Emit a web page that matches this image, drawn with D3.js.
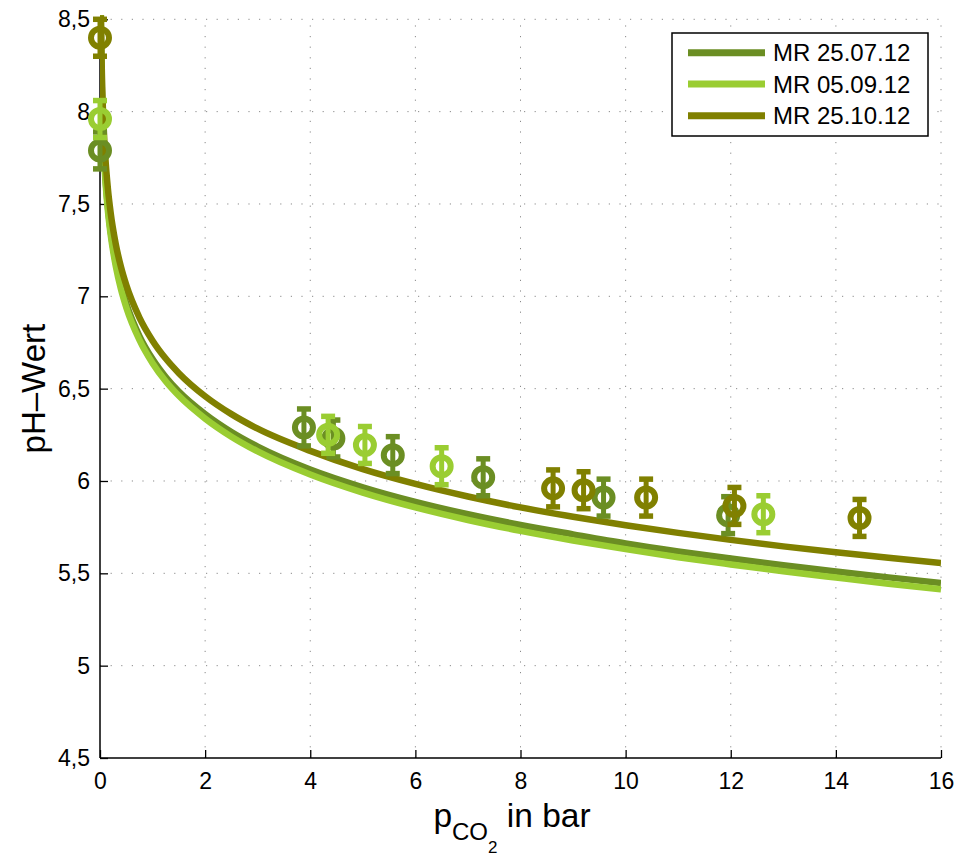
<!DOCTYPE html>
<html>
<head>
<meta charset="utf-8">
<script src="https://cdn.jsdelivr.net/npm/d3@7"></script>
<style>
  html, body { margin: 0; padding: 0; background: #fff; }
  svg { display: block; font-family: "Liberation Sans", Arial, Helvetica, sans-serif; }
</style>
</head>
<body>
<svg id="chart" width="958" height="864"></svg>
<script>
// ---- data ----------------------------------------------------------------
const seriesNames = ["MR 25.07.12", "MR 05.09.12", "MR 25.10.12"];
const seriesColors = ["#6B8E23", "#9ACD32", "#808000"];

// measured points: CO2 partial pressure (bar), pH, error
const pco2_0725 = [0, 3.88, 4.44, 5.57, 7.29, 9.58, 11.95];
const ph_0725   = [7.79, 6.29, 6.23, 6.14, 6.02, 5.91, 5.815];
const err_0725  = [0.1, 0.1, 0.1, 0.1, 0.1, 0.1, 0.1];

const pco2_0905 = [0, 4.34, 5.04, 6.5, 12.62];
const ph_0905   = [7.96, 6.25, 6.195, 6.08, 5.82];
const err_0905  = [0.1, 0.1, 0.1, 0.1, 0.1];

const pco2_1025 = [0, 8.62, 9.2, 10.39, 12.07, 14.45];
const ph_1025   = [8.40, 5.96, 5.95, 5.91, 5.865, 5.80];
const err_1025  = [0.1, 0.1, 0.1, 0.1, 0.1, 0.1];

// model curves sampled at these pressures
const curveP = [0.01, 0.02, 0.03, 0.05, 0.075, 0.1, 0.15, 0.2, 0.3, 0.4, 0.5, 0.75, 1, 1.25, 1.5,
                2, 2.5, 3, 4, 5, 6, 7, 8, 9, 10, 11, 12, 13, 14, 15, 16];
const curve_0725 = [8.660, 8.359, 8.183, 7.961, 7.785, 7.660, 7.484, 7.359, 7.183, 7.058, 6.961, 6.785,
                    6.660, 6.563, 6.484, 6.362, 6.265, 6.186, 6.062, 5.966, 5.887, 5.820, 5.762, 5.711,
                    5.662, 5.619, 5.580, 5.544, 5.510, 5.478, 5.448];
const curve_0905 = [8.640, 8.339, 8.163, 7.941, 7.765, 7.640, 7.464, 7.339, 7.163, 7.037, 6.940, 6.764,
                    6.638, 6.540, 6.461, 6.338, 6.240, 6.160, 6.035, 5.937, 5.857, 5.789, 5.730, 5.678,
                    5.631, 5.587, 5.548, 5.511, 5.477, 5.444, 5.414];
const curve_1025 = [8.760, 8.459, 8.283, 8.061, 7.885, 7.760, 7.584, 7.459, 7.283, 7.158, 7.061, 6.885,
                    6.760, 6.663, 6.584, 6.459, 6.362, 6.283, 6.163, 6.064, 5.984, 5.916, 5.857, 5.806,
                    5.760, 5.719, 5.681, 5.646, 5.614, 5.584, 5.556];

const xTicks = [0, 2, 4, 6, 8, 10, 12, 14, 16];
const yTicks = [4.5, 5, 5.5, 6, 6.5, 7, 7.5, 8, 8.5];

// ---- layout --------------------------------------------------------------
const plot = { left: 100, right: 941, top: 19.3, bottom: 758 };
const svg = d3.select("#chart");

const x = d3.scaleLinear().domain([0, 16]).range([plot.left, plot.right]);
const y = d3.scaleLinear().domain([4.5, 8.5]).range([plot.bottom, plot.top]);
const fmt = d => String(d).replace(".", ",");

// grid (dotted)
const grid = svg.append("g").attr("stroke", "#8a8a8a").attr("stroke-width", 1)
  .attr("stroke-dasharray", "1.2,9.4");
grid.selectAll(".gx").data(xTicks.filter(d => d > 0)).join("line")
  .attr("x1", d => x(d)).attr("x2", d => x(d))
  .attr("y1", plot.bottom).attr("y2", plot.top);
grid.selectAll(".gy").data(yTicks.filter(d => d > 4.5)).join("line")
  .attr("y1", d => y(d)).attr("y2", d => y(d))
  .attr("x1", plot.left).attr("x2", plot.right);

// axes
const xAxis = d3.axisBottom(x).tickValues(xTicks).tickSize(-8).tickPadding(15).tickFormat(fmt);
const yAxis = d3.axisLeft(y).tickValues(yTicks).tickSize(-8).tickPadding(10).tickFormat(fmt);

const gx = svg.append("g").attr("transform", `translate(0,${plot.bottom})`).call(xAxis);
const gy = svg.append("g").attr("transform", `translate(${plot.left},0)`).call(yAxis);
[gx, gy].forEach(g => {
  g.select(".domain").attr("stroke", "#000").attr("stroke-width", 1.5);
  g.selectAll(".tick line").attr("stroke", "#000").attr("stroke-width", 1.3);
  g.selectAll(".tick text").attr("fill", "#000").attr("font-size", 23)
    .attr("font-family", "'Liberation Sans', Arial, sans-serif");
});
gx.select(".domain").attr("d", `M${plot.left},0H${plot.right}`);
gy.select(".domain").attr("d", `M0,${plot.bottom}V${plot.top}`);

// clip region for curves
svg.append("clipPath").attr("id", "plotclip").append("rect")
  .attr("x", plot.left).attr("y", plot.top - 4)
  .attr("width", plot.right - plot.left).attr("height", plot.bottom - plot.top + 4);

// model curves
const line = d3.line().x(d => x(d[0])).y(d => y(d[1])).curve(d3.curveMonotoneX);
const curves = [curve_0725, curve_0905, curve_1025];
const curveG = svg.append("g").attr("clip-path", "url(#plotclip)");
curves.forEach((c, i) => {
  curveG.append("path")
    .datum(curveP.map((p, k) => [p, c[k]]))
    .attr("d", line)
    .attr("fill", "none")
    .attr("stroke", seriesColors[i])
    .attr("stroke-width", 6.5)
    .attr("stroke-linejoin", "round");
});

// measured points with error bars
const pts = [
  [pco2_0725, ph_0725, err_0725],
  [pco2_0905, ph_0905, err_0905],
  [pco2_1025, ph_1025, err_1025]
];
pts.forEach(([px, py, pe], i) => {
  const col = seriesColors[i];
  const g = svg.append("g").attr("stroke", col).attr("fill", "none");
  px.forEach((p, k) => {
    const cx = x(p), cy = y(py[k]);
    const yt = y(py[k] + pe[k]), yb = y(py[k] - pe[k]);
    g.append("line").attr("x1", cx).attr("x2", cx).attr("y1", yt).attr("y2", yb)
      .attr("stroke-width", 5);
    g.append("line").attr("x1", cx - 7).attr("x2", cx + 7).attr("y1", yt).attr("y2", yt)
      .attr("stroke-width", 5.5);
    g.append("line").attr("x1", cx - 7).attr("x2", cx + 7).attr("y1", yb).attr("y2", yb)
      .attr("stroke-width", 5.5);
    g.append("circle").attr("cx", cx).attr("cy", cy).attr("r", 9)
      .attr("stroke-width", 6);
  });
});

// axis titles
svg.append("text")
  .attr("transform", `translate(45,${(plot.top + plot.bottom) / 2}) rotate(-90)`)
  .attr("text-anchor", "middle")
  .attr("font-size", 33)
  .text("pH\u2013Wert");

const xl = svg.append("text")
  .attr("x", 512).attr("y", 827)
  .attr("text-anchor", "middle")
  .attr("font-size", 33.5);
xl.append("tspan").text("p");
xl.append("tspan").attr("font-size", 24).attr("dy", 13).text("CO");
xl.append("tspan").attr("font-size", 17).attr("dy", 13).text("2");
xl.append("tspan").attr("dy", -26).text(" in bar");

// legend
const leg = svg.append("g");
leg.append("rect").attr("x", 672).attr("y", 33).attr("width", 256).attr("height", 103)
  .attr("fill", "#fff").attr("stroke", "#000").attr("stroke-width", 1.5);
const rowY = [52.7, 84, 115.7];
seriesNames.forEach((name, i) => {
  leg.append("line").attr("x1", 688).attr("x2", 765).attr("y1", rowY[i]).attr("y2", rowY[i])
    .attr("stroke", seriesColors[i]).attr("stroke-width", 7);
  leg.append("text").attr("x", 773).attr("y", rowY[i]).attr("dy", "0.36em")
    .attr("font-size", 24).text(name);
});
</script>
</body>
</html>
